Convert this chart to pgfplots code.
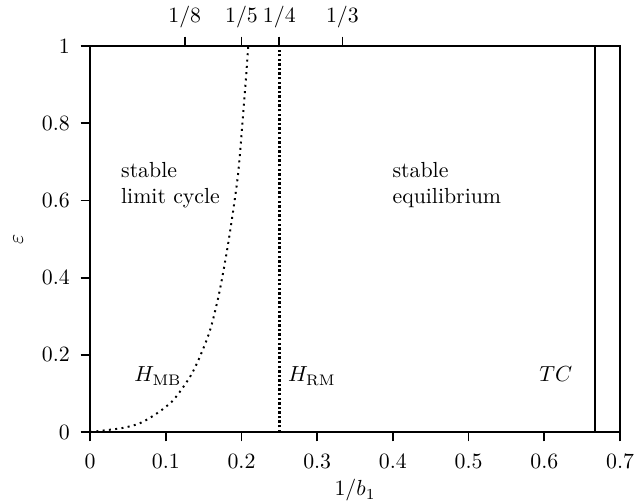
\documentclass[border=0pt]{standalone}
\usepackage{pgfplots}
\pgfplotsset{compat=1.18}
\begin{document}
\begin{tikzpicture}
\pgfplotsset{every axis/.append style={scale only axis, width=243pt, height=177pt,
  xmin=0, xmax=0.7, ymin=0, ymax=1, tick align=outside, major tick length=4.3pt,
  every tick/.style={black, thick}, axis line style={thick}}}
\begin{axis}[
  xtick={0,0.1,...,0.7},
  ytick={0,0.2,0.4,0.6,0.8,1},
  xtick pos=bottom, ytick pos=left,
  xlabel={$1/b_1$}, ylabel={$\varepsilon$},
  xlabel style={at={(axis description cs:0.5,-0.165)}, anchor=base},
  ylabel style={at={(axis description cs:-0.1358,0.5)}, anchor=center},
  xticklabel style={yshift=-2.5pt},
  yticklabel style={xshift=-1.5pt},
  clip=true,
]
\coordinate (sw) at (rel axis cs:0,0);
\coordinate (ne) at (rel axis cs:1,1);
% H_MB curve
\addplot[dotted, line width=0.9pt, smooth] coordinates {
  (0,0) (0.022,0.005) (0.044,0.011) (0.066,0.023) (0.088,0.048) (0.110,0.083)
  (0.132,0.143) (0.145,0.195) (0.1585,0.264) (0.170,0.355) (0.180,0.46)
  (0.188,0.56) (0.195,0.66) (0.199,0.745) (0.203,0.843) (0.206,0.92) (0.209,1)
};
% H_RM
\addplot[densely dotted, line width=1.1pt] coordinates {(0.25,0) (0.25,1)};
% TC
\addplot[line width=1pt] coordinates {(0.6667,0) (0.6667,1)};
\node[anchor=base west, inner sep=0pt] at (axis cs:0.0405,0.659) {stable};
\node[anchor=base west, inner sep=0pt] at (axis cs:0.0405,0.591) {limit cycle};
\node[anchor=base west, inner sep=0pt] at (axis cs:0.399,0.659) {stable};
\node[anchor=base west, inner sep=0pt] at (axis cs:0.399,0.592) {equilibrium};
\node[anchor=base west, inner sep=0pt] at (axis cs:0.058,0.13) {$H_{\mathrm{MB}}$};
\node[anchor=base west, inner sep=0pt] at (axis cs:0.261,0.13) {$H_{\mathrm{RM}}$};
\node[anchor=base west, inner sep=0pt] at (axis cs:0.593,0.13) {$TC$};
\end{axis}
\begin{axis}[
  axis x line*=top, axis y line=none,
  xtick={0.125,0.2,0.25,0.3333},
  xticklabels={$1/8$,$1/5$,$1/4$,$1/3$},
  xticklabel style={yshift=0.5pt},
]
\addplot[draw=none] coordinates {(0,0)};
\end{axis}
\pgfresetboundingbox
\path[use as bounding box] ([xshift=-41.3pt,yshift=-32.1pt]sw) rectangle ([xshift=6.4pt,yshift=21.1pt]ne);
\end{tikzpicture}
\end{document}
